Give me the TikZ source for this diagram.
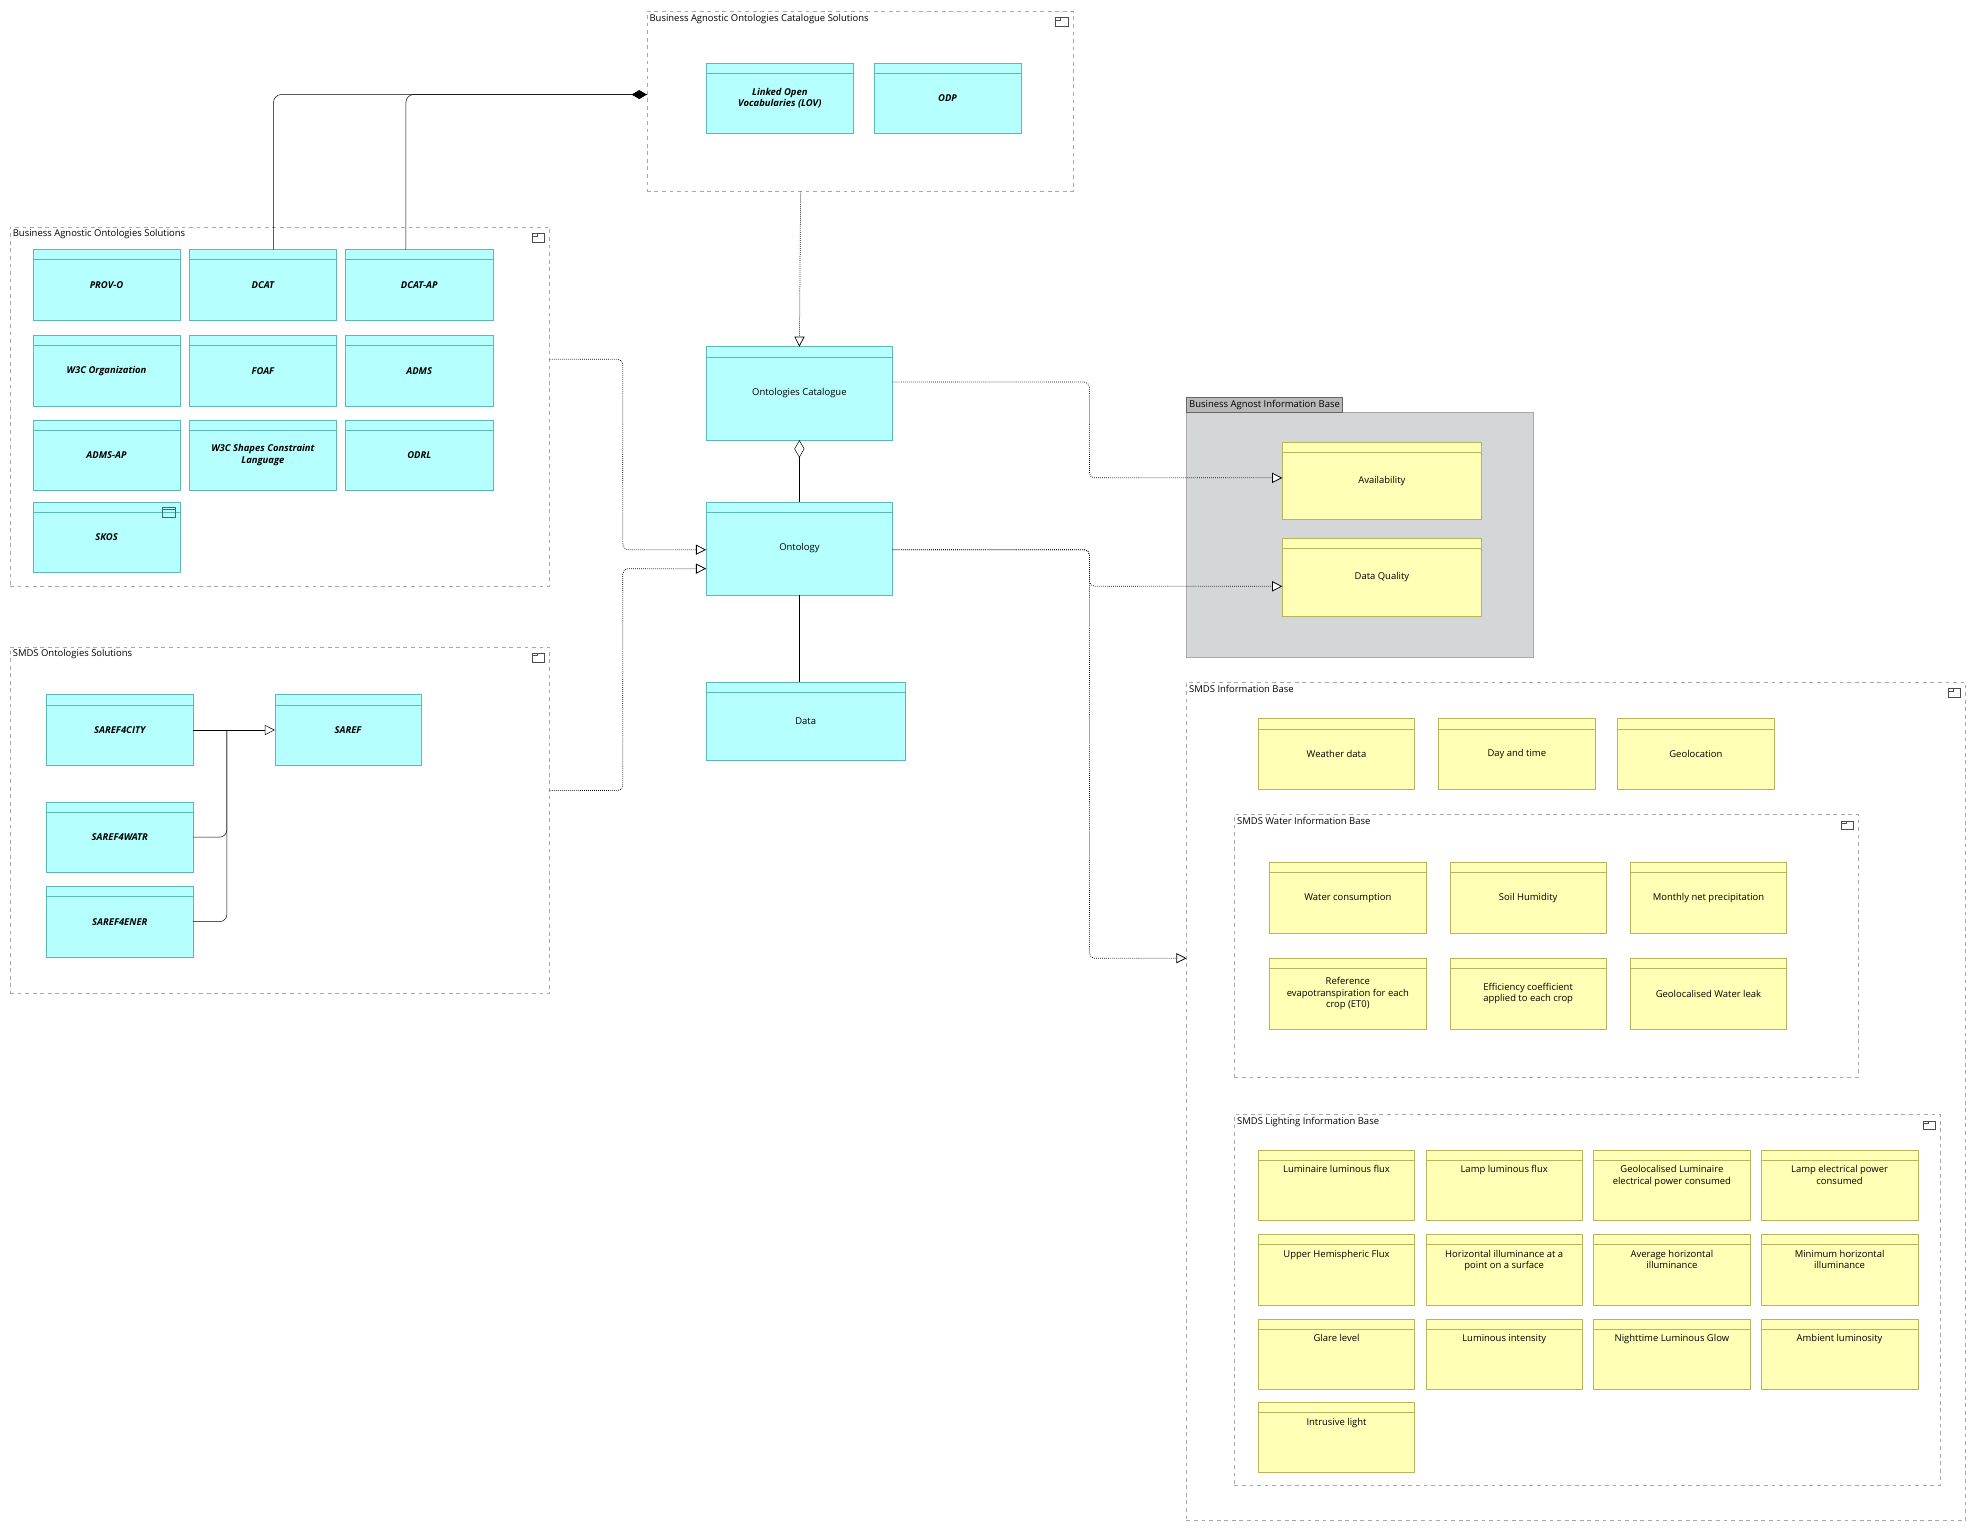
\documentclass[tikz,border=0pt]{standalone}
\usepackage{fontspec}
\setmainfont{Open Sans}
\usetikzlibrary{arrows.meta,positioning}
\definecolor{cyanfill}{HTML}{B5FFFF}
\definecolor{cyanline}{HTML}{5CB8B8}
\definecolor{yelfill}{HTML}{FFFFB5}
\definecolor{yelline}{HTML}{B5B55C}
\definecolor{grpline}{HTML}{A8A8A8}
\definecolor{grpfill}{HTML}{D3D7D7}
\tikzset{
  box/.style={draw, inner sep=1pt, outer sep=0pt, align=center, font=\fontsize{7.5}{9}\selectfont,
    minimum width=117pt, minimum height=56pt,
    path picture={\draw ([yshift=-8pt]path picture bounding box.north west) -- ([yshift=-8pt]path picture bounding box.north east);}},
  comp/.style={box, draw=cyanline, fill=cyanfill, font=\fontsize{7.5}{9}\selectfont\bfseries\itshape},
  plain/.style={box, draw=cyanline, fill=cyanfill},
  info/.style={box, draw=yelline, fill=yelfill, minimum width=124pt},
  infotop/.style={info, label={[anchor=north, yshift=-9pt, align=center, font=\fontsize{7.5}{9}\selectfont]north:{#1}}},
  group/.style={draw=grpline, dashed, inner sep=0pt, outer sep=0pt, anchor=north west},
  gtitle/.style={anchor=north west, inner sep=2pt, font=\fontsize{7.5}{9}\selectfont},
  flow/.style={densely dotted, semithick, rounded corners=4pt, -{Triangle[open, length=8pt, width=8pt, fill=white]}},
  link/.style={rounded corners=6pt}
}
\newcommand{\foldericon}[1]{%
  \draw[black!70] ([xshift=-14pt,yshift=-5pt]#1.north east) rectangle ([xshift=-4pt,yshift=-12pt]#1.north east)
    ([xshift=-14pt,yshift=-5pt]#1.north east) -- ++(0,2) -- ++(4,0) -- ++(0,-2);}
\begin{document}
\begin{tikzpicture}[x=1pt, y=-1pt]
\useasboundingbox (0,0) rectangle (1568,1215);
% groups
\node[group, minimum width=338pt, minimum height=143pt] (g1) at (513,9) {};
\node[gtitle] at (g1.north west) {Business Agnostic Ontologies Catalogue Solutions};
\foldericon{g1}
\node[group, minimum width=428pt, minimum height=285pt] (g2) at (8,180) {};
\node[gtitle] at (g2.north west) {Business Agnostic Ontologies Solutions};
\foldericon{g2}
\node[group, minimum width=428pt, minimum height=275pt] (g3) at (8,513) {};
\node[gtitle] at (g3.north west) {SMDS Ontologies Solutions};
\foldericon{g3}
\node[draw=grpline, fill=grpfill, inner sep=0pt, anchor=north west, minimum width=275pt, minimum height=194pt] (g4) at (941,327) {};
\node[draw=black!60, fill=grpline!80, anchor=south west, inner sep=2pt, font=\fontsize{7.5}{9}\selectfont] at (g4.north west) {Business Agnost Information Base};
\node[group, minimum width=618pt, minimum height=665pt] (g5) at (941,541) {};
\node[gtitle] at (g5.north west) {SMDS Information Base};
\foldericon{g5}
\node[group, minimum width=495pt, minimum height=208pt] (g6) at (979,646) {};
\node[gtitle] at (g6.north west) {SMDS Water Information Base};
\foldericon{g6}
\node[group, minimum width=560pt, minimum height=294pt] (g7) at (979,884) {};
\node[gtitle] at (g7.north west) {SMDS Lighting Information Base};
\foldericon{g7}
% catalogue solutions
\node[comp] (lov) at (618.5,78) {Linked Open\\Vocabularies (LOV)};
\node[comp] (odp) at (751.5,78) {ODP};
% agnostic ontologies
\node[comp] (provo) at (84.5,226) {PROV-O};
\node[comp] (dcat) at (208.5,226) {DCAT};
\node[comp] (dcatap) at (332.5,226) {DCAT-AP};
\node[comp] (w3corg) at (84.5,294) {W3C Organization};
\node[comp] (foaf) at (208.5,294) {FOAF};
\node[comp] (adms) at (332.5,294) {ADMS};
\node[comp] (admsap) at (84.5,361) {ADMS-AP};
\node[comp] (shacl) at (208.5,361) {W3C Shapes Constraint\\Language};
\node[comp] (odrl) at (332.5,361) {ODRL};
\node[comp] (skos) at (84.5,426) {SKOS};
\draw[cyanline!60!black] ([xshift=-14pt,yshift=-4pt]skos.north east) rectangle ([xshift=-4pt,yshift=-12pt]skos.north east)
  ([xshift=-14pt,yshift=-6pt]skos.north east) -- ([xshift=-4pt,yshift=-6pt]skos.north east);
% SMDS ontologies
\node[comp, minimum width=116pt] (city) at (95,579) {SAREF4CITY};
\node[comp, minimum width=116pt] (saref) at (276,579) {SAREF};
\node[comp, minimum width=116pt] (watr) at (95,664) {SAREF4WATR};
\node[comp, minimum width=116pt] (ener) at (95,731) {SAREF4ENER};
% centre
\node[plain, minimum width=148pt, minimum height=74pt] (cat) at (634,312) {Ontologies Catalogue};
\node[plain, minimum width=148pt, minimum height=74pt] (onto) at (634,435) {Ontology};
\node[plain, minimum width=158pt, minimum height=62pt] (data) at (639,572) {Data};
% agnostic information
\node[info, minimum width=158pt, minimum height=61pt] (avail) at (1096,381.5) {Availability};
\node[info, minimum width=158pt, minimum height=62pt] (dq) at (1096,458) {Data Quality};
% SMDS information
\node[info] (weather) at (1060,598) {Weather data};
\node[info] (daytime) at (1203,598) {Day and time};
\node[info] (geo) at (1345,598) {Geolocation};
\node[info] (water) at (1069,712) {Water consumption};
\node[info] (soil) at (1212,712) {Soil Humidity};
\node[info] (precip) at (1355,712) {Monthly net precipitation};
\node[info] (eto) at (1069,788) {Reference\\evapotranspiration for each\\crop (ET0)};
\node[info] (eff) at (1212,788) {Efficiency coefficient\\applied to each crop};
\node[info] (leak) at (1355,788) {Geolocalised Water leak};
% lighting
\node[infotop={Luminaire luminous flux}] (lumflux) at (1060,940) {};
\node[infotop={Lamp luminous flux}] (lampflux) at (1193,940) {};
\node[infotop={Geolocalised Luminaire\\electrical power consumed}] (lumpower) at (1326,940) {};
\node[infotop={Lamp electrical power\\consumed}] (lamppower) at (1459,940) {};
\node[infotop={Upper Hemispheric Flux}] (uhf) at (1060,1007) {};
\node[infotop={Horizontal illuminance at a\\point on a surface}] (hill) at (1193,1007) {};
\node[infotop={Average horizontal\\illuminance}] (avgill) at (1326,1007) {};
\node[infotop={Minimum horizontal\\illuminance}] (minill) at (1459,1007) {};
\node[infotop={Glare level}] (glare) at (1060,1074) {};
\node[infotop={Luminous intensity}] (intens) at (1193,1074) {};
\node[infotop={Nighttime Luminous Glow}] (glow) at (1326,1074) {};
\node[infotop={Ambient luminosity}] (ambient) at (1459,1074) {};
\node[infotop={Intrusive light}] (intrusive) at (1060,1140) {};
% connectors
\coordinate (g1in) at ([yshift=5.5pt]g1.west);
\draw[link, -{Diamond[length=12pt, width=7pt]}] ([xshift=8.5pt]dcat.north) |- (g1in);
\draw[link] ([xshift=-10.5pt]dcatap.north) |- (g1in);
\draw[flow] ([xshift=122pt]g1.south west) -- (cat.north);
\draw[{Diamond[open, length=14pt, width=8pt, fill=white]}-] (cat.south) -- (onto.north);
\draw (onto.south) -- (onto.south |- data.north);
\draw[flow] ([yshift=-105pt]g2.north east) -- (494,285) |- ([yshift=-1pt]onto.west);
\draw[flow] ([yshift=-114pt]g3.north east) -- (494,627) |- ([yshift=-16pt]onto.west);
\draw[flow] ([yshift=9pt]cat.east) -- (864,303) |- ([yshift=2.5pt]avail.west);
\draw[flow] ([yshift=-1pt]onto.east) -- (864,436) |- ([yshift=-7pt]dq.west);
\draw[flow] ([yshift=-1pt]onto.east) -- (864,436) |- (941,760);
\draw[-{Triangle[open, length=8pt, width=8pt, fill=white]}] (city.east) -- (saref.west);
\draw[link] (watr.east) -| (180,579);
\draw[link] (ener.east) -| (180,579);
\end{tikzpicture}
\end{document}
